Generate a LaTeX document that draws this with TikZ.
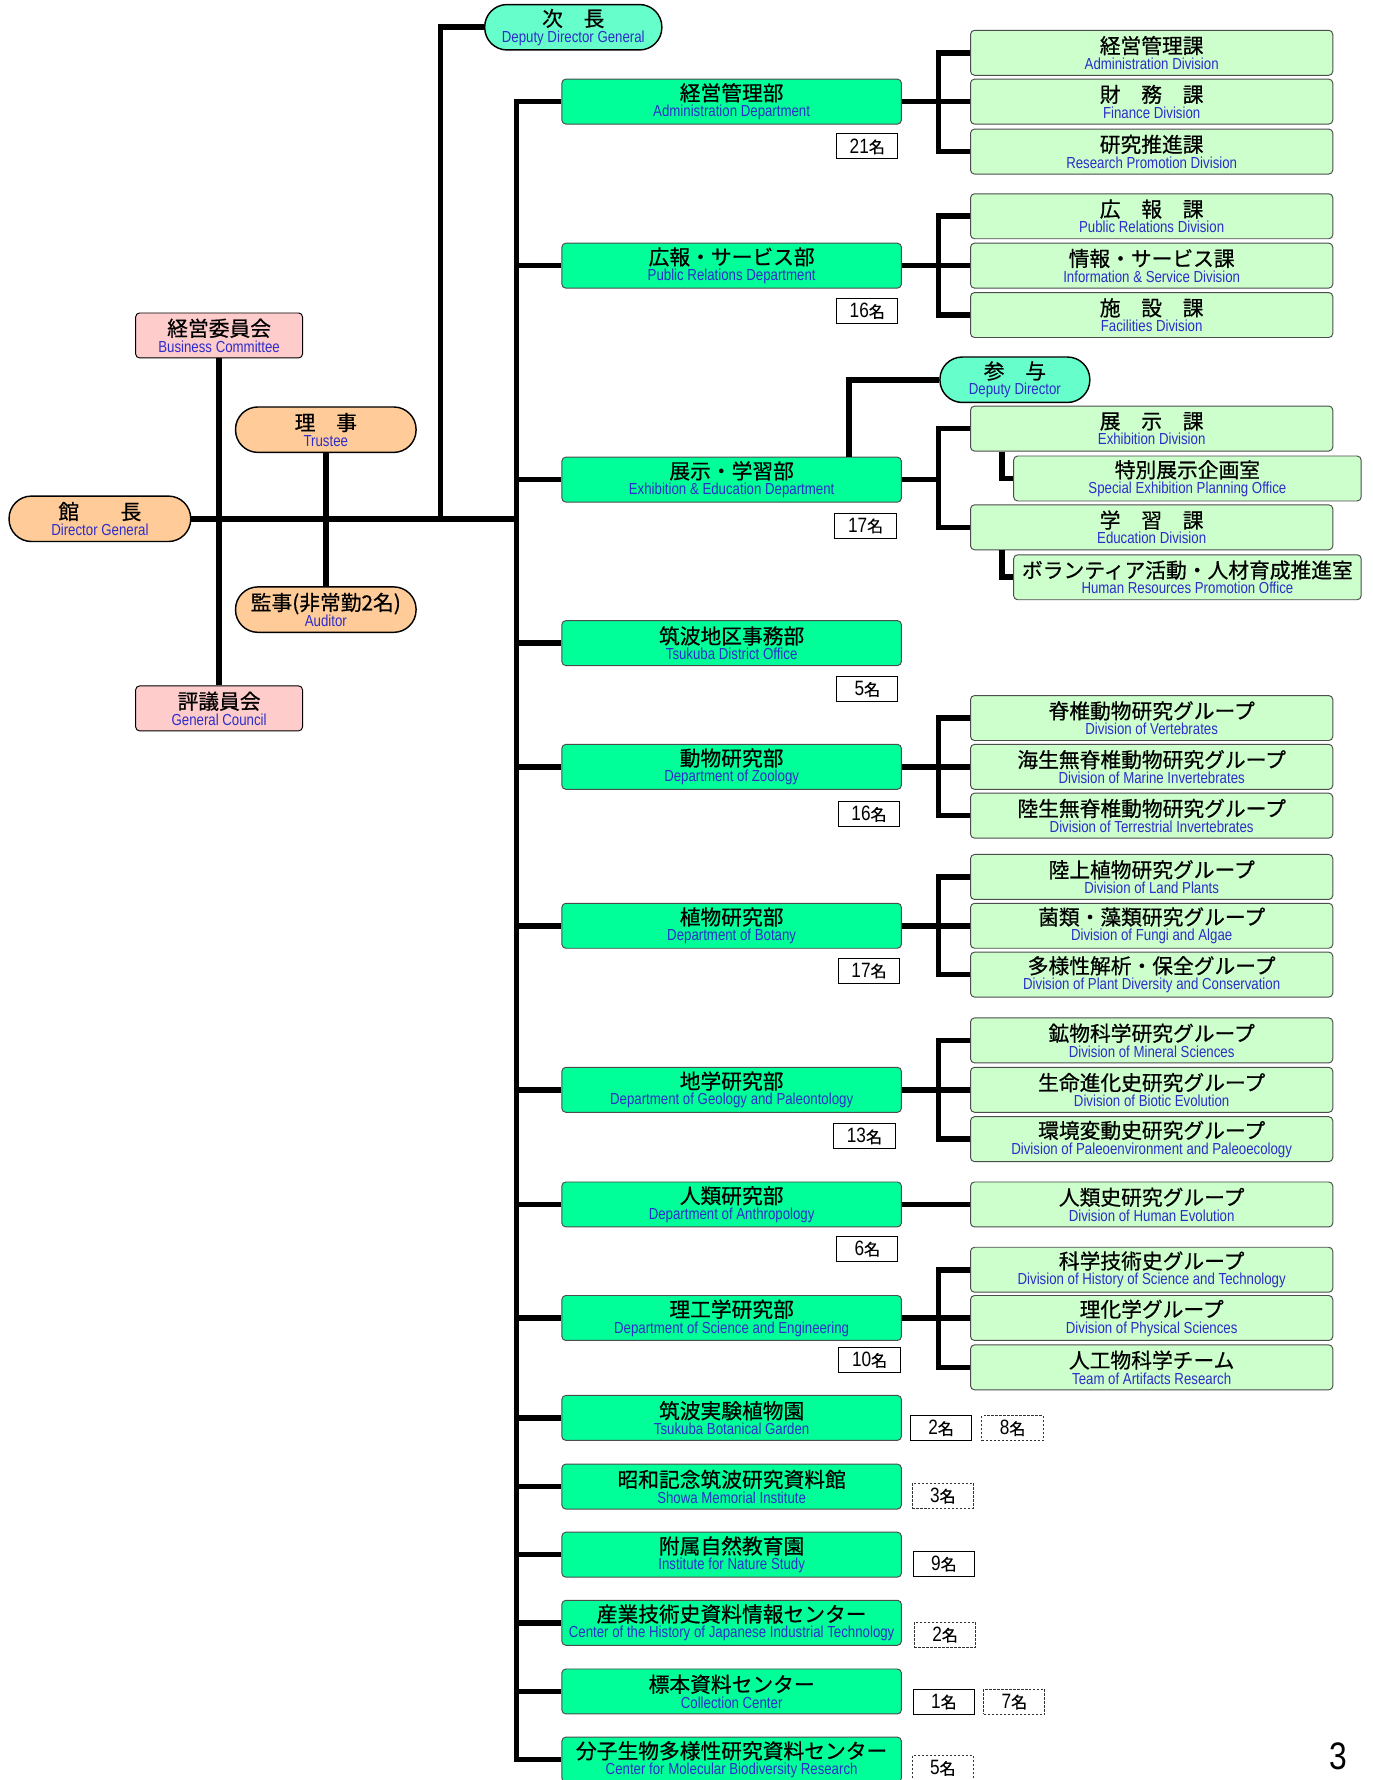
\documentclass[tikz,border=0pt]{standalone}
\usepackage{fontspec}
\usepackage{xcolor}
\usepackage{tikz}
\usetikzlibrary{shapes, positioning, calc}

\newfontfamily\jafont[FakeBold=0.6]{Noto Sans CJK JP}
\newfontfamily\enfont[FakeStretch=0.83]{Liberation Sans}
\newcommand{\ja}{\jafont\fontsize{13}{13}\selectfont\color{black}}
\newcommand{\mei}{{\jafont\fontsize{10}{10}\selectfont 名}}

\definecolor{entext}{RGB}{45,45,200}
\definecolor{deptgreen}{RGB}{0,255,153}
\definecolor{divgreen}{RGB}{204,255,204}
\definecolor{peach}{RGB}{255,204,153}
\definecolor{boardpink}{RGB}{255,204,204}
\definecolor{aqua}{RGB}{102,255,204}

\begin{document}
\begin{tikzpicture}[x=0.025cm, y=-0.025cm,
        box/.style={rectangle, rounded corners=2.5pt, draw=black!70, line width=0.6pt, align=center, inner sep=1pt, font=\enfont\fontsize{10}{10}\selectfont, text=entext},
        dept/.style={box, fill=deptgreen, minimum width=7.475cm, minimum height=0.99cm},
        div/.style={box, fill=divgreen, minimum width=7.975cm, minimum height=0.99cm},
        office/.style={box, fill=divgreen, minimum width=7.65cm, minimum height=0.99cm},
        board/.style={box, fill=boardpink, draw=black, minimum width=3.675cm, minimum height=0.99cm},
        oval/.style={box, rounded corners=14pt, draw=black, line width=0.9pt, minimum height=1cm},
        cnt/.style={rectangle, draw=black, line width=0.6pt, minimum width=1.35cm, minimum height=0.55cm, inner sep=0pt, font=\enfont\fontsize{13}{13}\selectfont},
        cntd/.style={cnt, draw=black!80, dash pattern=on 1.5pt off 1pt},
        conn/.style={draw, line width=3.5pt, black}
    ]
    \useasboundingbox (0,0) rectangle (1209,1568);

    % Top management
    \node[oval, fill=peach, minimum width=4cm] (dg) at (88,457) {{\ja 館　　長}\\Director General};
    \node[board] (bc) at (193,295.5) {{\ja 経営委員会}\\Business Committee};
    \node[oval, fill=peach, minimum width=3.975cm] (tr) at (287,378.5) {{\ja 理　事}\\Trustee};
    \node[oval, fill=peach, minimum width=3.975cm] (au) at (287,537) {{\ja 監事(非常勤2名)}\\Auditor};
    \node[board] (gc) at (193,624) {{\ja 評議員会}\\General Council};
    \node[oval, fill=aqua, minimum width=3.9cm] (ddg) at (505,24) {{\ja 次　長}\\Deputy Director General};

    % Departments
    \node[dept] (dadm) at (644.5,89.5) {{\ja 経営管理部}\\Administration Department};
    \node[dept] (dpr) at (644.5,234) {{\ja 広報・サービス部}\\Public Relations Department};
    \node[dept] (dexh) at (644.5,422.5) {{\ja 展示・学習部}\\Exhibition \& Education Department};
    \node[dept] (dtsu) at (644.5,566.5) {{\ja 筑波地区事務部}\\Tsukuba District Office};
    \node[dept] (dzoo) at (644.5,675.5) {{\ja 動物研究部}\\Department of Zoology};
    \node[dept] (dbot) at (644.5,815.5) {{\ja 植物研究部}\\Department of Botany};
    \node[dept] (dgeo) at (644.5,960) {{\ja 地学研究部}\\Department of Geology and Paleontology};
    \node[dept] (dant) at (644.5,1061) {{\ja 人類研究部}\\Department of Anthropology};
    \node[dept] (dsci) at (644.5,1161) {{\ja 理工学研究部}\\Department of Science and Engineering};
    \node[dept] (dgar) at (644.5,1249) {{\ja 筑波実験植物園}\\Tsukuba Botanical Garden};
    \node[dept] (dsho) at (644.5,1309.5) {{\ja 昭和記念筑波研究資料館}\\Showa Memorial Institute};
    \node[dept] (dnat) at (644.5,1369.5) {{\ja 附属自然教育園}\\Institute for Nature Study};
    \node[dept] (dind) at (644.5,1429.5) {{\ja 産業技術史資料情報センター}\\Center of the History of Japanese Industrial Technology};
    \node[dept] (dcol) at (644.5,1490) {{\ja 標本資料センター}\\Collection Center};
    \node[dept] (dmol) at (644.5,1550) {{\ja 分子生物多様性研究資料センター}\\Center for Molecular Biodiversity Research};

    % Divisions
    \node[div] (vadm1) at (1014.5,46.5) {{\ja 経営管理課}\\Administration Division};
    \node[div] (vadm2) at (1014.5,89.5) {{\ja 財　務　課}\\Finance Division};
    \node[div] (vadm3) at (1014.5,133.5) {{\ja 研究推進課}\\Research Promotion Division};
    \node[div] (vpr1) at (1014.5,190.5) {{\ja 広　報　課}\\Public Relations Division};
    \node[div] (vpr2) at (1014.5,234) {{\ja 情報・サービス課}\\Information \& Service Division};
    \node[div] (vpr3) at (1014.5,277.5) {{\ja 施　設　課}\\Facilities Division};
    \node[oval, fill=aqua, minimum width=3.3cm] (dd) at (894,334.5) {{\ja 参　与}\\Deputy Director};
    \node[div] (vexh1) at (1014.5,377.5) {{\ja 展　示　課}\\Exhibition Division};
    \node[office] (oexh1) at (1046,421.5) {{\ja 特別展示企画室}\\Special Exhibition Planning Office};
    \node[div] (vexh2) at (1014.5,464.5) {{\ja 学　習　課}\\Education Division};
    \node[office] (oexh2) at (1046,508.5) {{\ja ボランティア活動・人材育成推進室}\\Human Resources Promotion Office};
    \node[div] (vzoo1) at (1014.5,632.5) {{\ja 脊椎動物研究グループ}\\Division of Vertebrates};
    \node[div] (vzoo2) at (1014.5,675.5) {{\ja 海生無脊椎動物研究グループ}\\Division of Marine Invertebrates};
    \node[div] (vzoo3) at (1014.5,718.5) {{\ja 陸生無脊椎動物研究グループ}\\Division of Terrestrial Invertebrates};
    \node[div] (vbot1) at (1014.5,772.5) {{\ja 陸上植物研究グループ}\\Division of Land Plants};
    \node[div] (vbot2) at (1014.5,815.5) {{\ja 菌類・藻類研究グループ}\\Division of Fungi and Algae};
    \node[div] (vbot3) at (1014.5,858.5) {{\ja 多様性解析・保全グループ}\\Division of Plant Diversity and Conservation};
    \node[div] (vgeo1) at (1014.5,916.5) {{\ja 鉱物科学研究グループ}\\Division of Mineral Sciences};
    \node[div] (vgeo2) at (1014.5,960) {{\ja 生命進化史研究グループ}\\Division of Biotic Evolution};
    \node[div] (vgeo3) at (1014.5,1003.5) {{\ja 環境変動史研究グループ}\\Division of Paleoenvironment and Paleoecology};
    \node[div] (vant) at (1014.5,1061) {{\ja 人類史研究グループ}\\Division of Human Evolution};
    \node[div] (vsci1) at (1014.5,1118.5) {{\ja 科学技術史グループ}\\Division of History of Science and Technology};
    \node[div] (vsci2) at (1014.5,1161) {{\ja 理化学グループ}\\Division of Physical Sciences};
    \node[div] (vsci3) at (1014.5,1204.5) {{\ja 人工物科学チーム}\\Team of Artifacts Research};

    % Staff numbers
    \node[cnt] (nadm) at (764,129) {21\mei};
    \node[cnt] (npr) at (764,274) {16\mei};
    \node[cnt] (nexh) at (762.5,463) {17\mei};
    \node[cnt] (ntsu) at (764,607) {5\mei};
    \node[cnt] (nzoo) at (765.5,717) {16\mei};
    \node[cnt] (nbot) at (765.5,855) {17\mei};
    \node[cnt] (ngeo) at (761.5,1001) {13\mei};
    \node[cnt] (nant) at (764,1100) {6\mei};
    \node[cnt] (nsci) at (766,1198) {10\mei};
    \node[cnt] (ngar) at (829,1258) {2\mei};
    \node[cntd] (ngar2) at (892,1258) {8\mei};
    \node[cntd] (nsho) at (830.5,1317.5) {3\mei};
    \node[cnt] (nnat) at (831.5,1377.5) {9\mei};
    \node[cntd] (nind) at (832.5,1440) {2\mei};
    \node[cnt] (ncol) at (831.5,1499) {1\mei};
    \node[cntd] (ncol2) at (893.5,1499) {7\mei};
    \node[cntd] (nmol) at (830.5,1557.5) {5\mei};

    \node[font=\enfont\fontsize{24}{24}\selectfont, inner sep=0pt, anchor=base] (page) at (1179,1559) {3};

    % Lines - top management
    \coordinate (trunk) at (455,457);
    \coordinate (jun) at (388,457);
    \draw[conn] (bc.south) -- (gc.north);
    \draw[conn] (tr.south) -- (au.north);
    \draw[conn] (dg.east) -- (trunk);
    \draw[conn] (jun) |- (ddg.west);

    % Lines - trunk to departments
    \draw[conn] (dadm.west) -| (dmol.west -| trunk) -- (dmol.west);
    \foreach \d in {dpr, dexh, dtsu, dzoo, dbot, dgeo, dant, dsci, dgar, dsho, dnat, dind, dcol}
        \draw[conn] (\d.west -| trunk) -- (\d.west);

    % Lines - departments to divisions
    \draw[conn] (vadm1.west) -- ++(-28,0) |- (vadm3.west);
    \draw[conn] (dadm.east) -- (vadm2.west);
    \draw[conn] (vpr1.west) -- ++(-28,0) |- (vpr3.west);
    \draw[conn] (dpr.east) -- (vpr2.west);
    \draw[conn] (vexh1.west) -- ++(-28,0) coordinate (exspine) |- (vexh2.west);
    \draw[conn] (dexh.east) -- (dexh.east -| exspine);
    \draw[conn] ($(dexh.north)+(103.5,0)$) |- (dd.west);
    \draw[conn] ($(vexh1.south west)+(28,0)$) |- (oexh1.west);
    \draw[conn] ($(vexh2.south west)+(28,0)$) |- (oexh2.west);
    \draw[conn] (vzoo1.west) -- ++(-28,0) |- (vzoo3.west);
    \draw[conn] (dzoo.east) -- (vzoo2.west);
    \draw[conn] (vbot1.west) -- ++(-28,0) |- (vbot3.west);
    \draw[conn] (dbot.east) -- (vbot2.west);
    \draw[conn] (vgeo1.west) -- ++(-28,0) |- (vgeo3.west);
    \draw[conn] (dgeo.east) -- (vgeo2.west);
    \draw[conn] (dant.east) -- (vant.west);
    \draw[conn] (vsci1.west) -- ++(-28,0) |- (vsci3.west);
    \draw[conn] (dsci.east) -- (vsci2.west);

\end{tikzpicture}
\end{document}
